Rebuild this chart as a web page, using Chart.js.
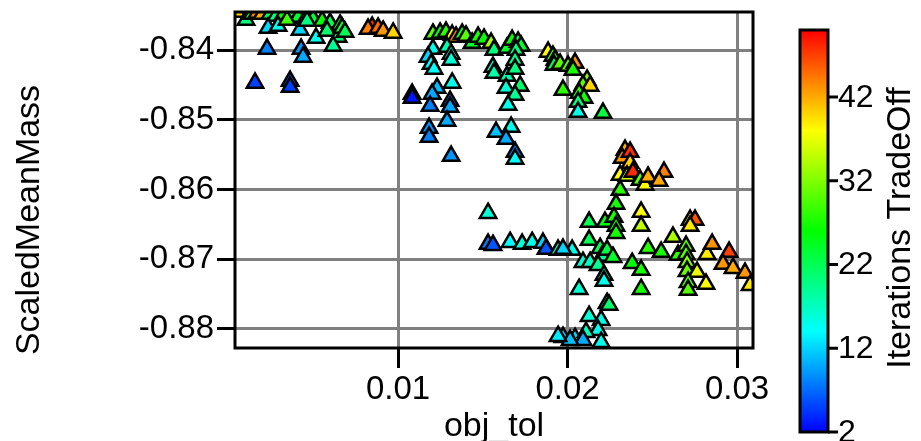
<!DOCTYPE html>
<html>
<head>
<meta charset="utf-8">
<script src="https://cdn.jsdelivr.net/npm/chart.js@4.4.1/dist/chart.umd.min.js"></script>
<style>
  body { margin: 0; background: #fff; }
  canvas { display: block; }
</style>
</head>
<body>
<canvas id="scatterChart" width="921" height="441"></canvas>
<script>
// obj_tol values (x)
const objTol = [
    0.00050, 0.00103, 0.00139, 0.00168, 0.00198, 0.00245, 0.00280, 0.00322, 0.00375, 0.00410,
    0.00457, 0.00499, 0.00552, 0.00599, 0.00658, 0.00233, 0.00292, 0.00345, 0.00422, 0.00463,
    0.00516, 0.00581, 0.00646, 0.00670, 0.00687, 0.00617, 0.00847, 0.00823, 0.00882, 0.00912,
    0.00971, 0.00227, 0.00428, 0.00440, 0.00156, 0.00363, 0.00363,
    0.01206, 0.01248, 0.01283, 0.01319, 0.01342, 0.01378, 0.01401, 0.01437, 0.01472, 0.01507,
    0.01549, 0.01566, 0.01643, 0.01673, 0.01708, 0.01726, 0.01696, 0.01206, 0.01177, 0.01195,
    0.01212, 0.01289, 0.01313, 0.01313, 0.01319, 0.01083, 0.01083, 0.01230, 0.01201, 0.01189,
    0.01307, 0.01307, 0.01289, 0.01183, 0.01183, 0.01313, 0.01560, 0.01566, 0.01643, 0.01690,
    0.01690, 0.01720, 0.01637, 0.01690, 0.01649, 0.01578, 0.01667, 0.01637, 0.01690, 0.01690,
    0.01885, 0.01914, 0.01926, 0.01920, 0.01956, 0.02003, 0.02044, 0.02032, 0.01973, 0.02115,
    0.02091, 0.02133, 0.02068, 0.02097, 0.02062, 0.02062, 0.02209,
    0.02339, 0.02322, 0.02369, 0.02369, 0.02310, 0.02351, 0.02386, 0.02428, 0.02457, 0.02475,
    0.02569, 0.02540, 0.02310, 0.02286,
    0.02127, 0.02221, 0.02274, 0.02286, 0.02286, 0.02434, 0.02434, 0.02723, 0.02752, 0.02723,
    0.02127, 0.02192, 0.02204, 0.02233, 0.02268, 0.02091, 0.02133, 0.02180, 0.02215, 0.02215,
    0.02068, 0.02381, 0.02434, 0.02434, 0.02475, 0.02552, 0.02622, 0.02652, 0.02699, 0.02699,
    0.02705, 0.02705, 0.02764, 0.02711, 0.02711, 0.02817, 0.02823, 0.02853, 0.02953, 0.02917,
    0.02976, 0.03047, 0.03077,
    0.02233, 0.02245, 0.02127, 0.02198, 0.02180, 0.01973, 0.02044, 0.02109, 0.02091, 0.02198,
    0.02015, 0.01944,
    0.01531, 0.01531, 0.01560, 0.01661, 0.01732, 0.01791, 0.01855, 0.01873, 0.01944, 0.02027,
    0.01973
];

// ScaledMeanMass values (y)
const scaledMeanMass = [
    -0.83455, -0.83570, -0.83483, -0.83469, -0.83483, -0.83483, -0.83512, -0.83498, -0.83498, -0.83527,
    -0.83541, -0.83555, -0.83584, -0.83613, -0.83641, -0.83684, -0.83656, -0.83570, -0.83713, -0.83584,
    -0.83828, -0.83727, -0.83813, -0.83684, -0.83742, -0.83943, -0.83670, -0.83699, -0.83684, -0.83727,
    -0.83756, -0.83986, -0.83986, -0.84100, -0.84473, -0.84445, -0.84531,
    -0.83770, -0.83756, -0.83742, -0.83785, -0.83813, -0.83770, -0.83799, -0.83900, -0.83813, -0.83842,
    -0.83900, -0.84000, -0.83971, -0.83857, -0.83885, -0.83943, -0.84000, -0.83986, -0.84100, -0.84201,
    -0.84273, -0.83957, -0.84057, -0.84143, -0.84473, -0.84631, -0.84689, -0.84545, -0.84631, -0.84803,
    -0.84732, -0.84818, -0.85019, -0.85119, -0.85248, -0.85521, -0.84244, -0.84330, -0.84373, -0.84143,
    -0.84273, -0.84516, -0.84545, -0.84646, -0.84789, -0.85176, -0.85105, -0.85277, -0.85463, -0.85564,
    -0.84029, -0.84086, -0.84143, -0.84215, -0.84201, -0.84230, -0.84187, -0.84287, -0.84574, -0.84430,
    -0.84502, -0.84516, -0.84617, -0.84689, -0.84746, -0.84890, -0.84904,
    -0.85435, -0.85550, -0.85463, -0.85621, -0.85793, -0.85808, -0.85750, -0.85865, -0.85937, -0.85822,
    -0.85750, -0.85879, -0.86009, -0.86209,
    -0.86468, -0.86468, -0.86396, -0.86525, -0.86626, -0.86324, -0.86525, -0.86439, -0.86439, -0.86525,
    -0.86726, -0.86841, -0.86955, -0.86869, -0.86970, -0.87042, -0.87042, -0.87085, -0.87228, -0.87314,
    -0.87429, -0.87056, -0.87156, -0.87429, -0.86841, -0.86898, -0.86683, -0.86941, -0.86812, -0.86927,
    -0.87042, -0.87171, -0.87185, -0.87329, -0.87443, -0.87357, -0.86927, -0.86783, -0.86898, -0.87070,
    -0.87128, -0.87199, -0.87372,
    -0.87630, -0.87658, -0.87816, -0.87874, -0.88017, -0.88118, -0.88132, -0.88046, -0.88161, -0.88189,
    -0.88161, -0.88103,
    -0.86339, -0.86783, -0.86798, -0.86755, -0.86783, -0.86755, -0.86769, -0.86855, -0.86869, -0.86869,
    -0.86855
];

// Iterations TradeOff values (colour)
const iterations = [
    40, 20, 24, 44, 42, 22, 20, 26, 22, 24,
    20, 24, 26, 22, 28, 12, 15, 29, 12, 20,
    15, 21, 21, 24, 22, 19, 48, 44, 45, 43,
    40, 8, 9, 10, 5, 6, 5,
    30, 26, 28, 38, 44, 24, 30, 24, 27, 26,
    34, 20, 24, 26, 22, 24, 20, 15, 12, 14,
    14, 18, 15, 16, 15, 4, 3, 11, 10, 8,
    7, 10, 10, 9, 8, 9, 16, 18, 18, 19,
    20, 21, 16, 19, 15, 11, 15, 10, 8, 14,
    38, 30, 27, 22, 30, 30, 43, 27, 28, 32,
    30, 40, 28, 27, 20, 15, 23,
    42, 43, 48, 40, 38, 36, 48, 30, 38, 42,
    44, 42, 28, 27,
    22, 25, 27, 26, 27, 38, 35, 38, 46, 39,
    22, 22, 19, 23, 24, 16, 17, 19, 17, 15,
    16, 26, 27, 27, 28, 27, 34, 28, 30, 30,
    32, 31, 37, 30, 30, 38, 39, 43, 47, 43,
    42, 43, 39,
    22, 21, 16, 15, 15, 12, 12, 17, 10, 15,
    11, 13,
    16, 8, 6, 14, 16, 15, 12, 6, 16, 15,
    12
];

const xTicks = [0.01, 0.02, 0.03];
const yTicks = [-0.88, -0.87, -0.86, -0.85, -0.84];
const colorTicks = [2, 12, 22, 32, 42];
const colorMin = 2;
const colorMax = 50;

const FONT = '"Liberation Sans", Arial, sans-serif';

// blue -> cyan -> green -> yellow -> red
const rainbowStops = [[0, 0, 255], [0, 255, 255], [0, 255, 0], [255, 255, 0], [255, 0, 0]];
function rainbow(v) {
    let t = (v - colorMin) / (colorMax - colorMin);
    t = Math.max(0, Math.min(1, t)) * 4;
    const i = Math.min(3, Math.floor(t));
    const f = t - i;
    const a = rainbowStops[i], b = rainbowStops[i + 1];
    const c = a.map((av, k) => Math.round(av + (b[k] - av) * f));
    return `rgb(${c[0]},${c[1]},${c[2]})`;
}

const points = objTol.map((x, i) => ({ x: x, y: scaledMeanMass[i] }));

// frame, axis titles and colour bar
const decorations = {
    id: 'decorations',
    afterDatasetsDraw(chart) {
        const { ctx, chartArea } = chart;
        ctx.save();
        ctx.strokeStyle = '#000';
        ctx.lineWidth = 3;
        ctx.strokeRect(chartArea.left, chartArea.top, chartArea.right - chartArea.left, chartArea.bottom - chartArea.top);
        ctx.restore();
    },
    afterDraw(chart) {
        const { ctx, chartArea } = chart;
        ctx.save();
        ctx.fillStyle = '#000';
        ctx.font = '34px ' + FONT;
        ctx.textAlign = 'center';
        ctx.textBaseline = 'middle';
        ctx.fillText('obj_tol', (chartArea.left + chartArea.right) / 2, 427);

        ctx.save();
        ctx.translate(30, 220);
        ctx.rotate(-Math.PI / 2);
        ctx.fillText('ScaledMeanMass', 0, 0);
        ctx.restore();

        // colour bar
        const cbLeft = 800, cbRight = 828, cbTop = 30, cbBottom = 432;
        const grad = ctx.createLinearGradient(0, cbBottom, 0, cbTop);
        rainbowStops.forEach((c, i) => grad.addColorStop(i / 4, `rgb(${c[0]},${c[1]},${c[2]})`));
        ctx.fillStyle = grad;
        ctx.fillRect(cbLeft, cbTop, cbRight - cbLeft, cbBottom - cbTop);
        ctx.strokeStyle = '#000';
        ctx.lineWidth = 3;
        ctx.strokeRect(cbLeft, cbTop, cbRight - cbLeft, cbBottom - cbTop);

        ctx.fillStyle = '#000';
        ctx.font = '32px ' + FONT;
        ctx.textAlign = 'left';
        colorTicks.forEach(v => {
            const y = cbBottom - (v - colorMin) / (colorMax - colorMin) * (cbBottom - cbTop);
            ctx.beginPath();
            ctx.moveTo(cbRight, y);
            ctx.lineTo(cbRight + 10, y);
            ctx.stroke();
            ctx.fillText(String(v), cbRight + 10, y + 1);
        });

        ctx.font = '34px ' + FONT;
        ctx.textAlign = 'center';
        ctx.translate(901, 228);
        ctx.rotate(-Math.PI / 2);
        ctx.fillText('Iterations TradeOff', 0, 0);
        ctx.restore();
    }
};

const ctx = document.getElementById('scatterChart').getContext('2d');
const scatterChart = new Chart(ctx, {
    type: 'scatter',
    data: {
        datasets: [{
            data: points,
            pointStyle: 'triangle',
            pointRadius: 9.5,
            pointHoverRadius: 9.5,
            pointBorderWidth: 2.5,
            pointBorderColor: '#000',
            pointBackgroundColor: iterations.map(rainbow),
            clip: 0
        }]
    },
    options: {
        responsive: false,
        animation: false,
        events: [],
        layout: {
            padding: { left: 0, right: 168, top: 12, bottom: 0 }
        },
        plugins: {
            legend: { display: false },
            tooltip: { enabled: false }
        },
        scales: {
            x: {
                type: 'linear',
                min: 0.00038,
                max: 0.03094,
                afterBuildTicks: (scale) => { scale.ticks = xTicks.map(v => ({ value: v })); },
                afterFit: (scale) => {
                    scale.height = 93;
                    scale.paddingLeft = 0;
                    scale.paddingRight = 0;
                },
                border: { display: false },
                grid: { color: '#808080', lineWidth: 3, tickColor: '#000', tickWidth: 3, tickLength: 20 },
                ticks: {
                    color: '#000',
                    padding: 2,
                    maxRotation: 0,
                    font: { family: FONT, size: 33 },
                    callback: (v) => v.toFixed(2)
                }
            },
            y: {
                type: 'linear',
                min: -0.88273,
                max: -0.83455,
                afterBuildTicks: (scale) => { scale.ticks = yTicks.map(v => ({ value: v })); },
                afterFit: (scale) => {
                    scale.width = 235;
                    scale.paddingTop = 0;
                    scale.paddingBottom = 0;
                },
                border: { display: false },
                grid: { color: '#808080', lineWidth: 3, tickColor: '#000', tickWidth: 3, tickLength: 18 },
                ticks: {
                    color: '#000',
                    padding: 3,
                    font: { family: FONT, size: 33 },
                    callback: (v) => v.toFixed(2)
                }
            }
        }
    },
    plugins: [decorations]
});
</script>
</body>
</html>
